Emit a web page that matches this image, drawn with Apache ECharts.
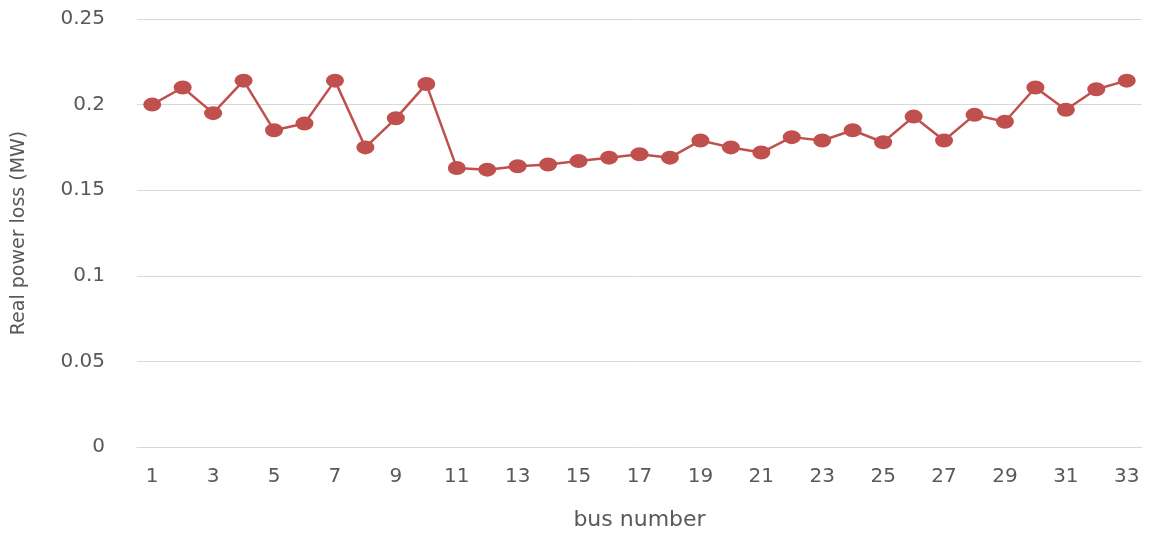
<!DOCTYPE html>
<html>
<head>
<meta charset="utf-8">
<title>Real power loss by bus</title>
<script src="https://cdn.jsdelivr.net/npm/echarts@6/dist/echarts.min.js"></script>
<style>
  html, body { margin: 0; padding: 0; background: #fff; }
  #main { width: 1162px; height: 536px; }
</style>
</head>
<body>
<div id="main"></div>
<script>
// bus numbers 1..33
var busNumbers = ['1','2','3','4','5','6','7','8','9','10','11','12','13','14','15','16','17',
  '18','19','20','21','22','23','24','25','26','27','28','29','30','31','32','33'];
// real power loss (MW)
var powerLoss = [0.200, 0.210, 0.195, 0.214, 0.185, 0.189, 0.214, 0.175, 0.192, 0.212,
  0.163, 0.162, 0.164, 0.165, 0.167, 0.169, 0.171, 0.169, 0.179, 0.175, 0.172,
  0.181, 0.179, 0.185, 0.178, 0.193, 0.179, 0.194, 0.190, 0.210, 0.197, 0.209, 0.214];

var txt = '#595959';
var font = '"DejaVu Sans", sans-serif';

var myChart = echarts.init(document.getElementById('main'));
var option = {
  animation: false,
  grid: { left: 137, right: 20, top: 19, bottom: 89, containLabel: false },
  xAxis: {
    type: 'category',
    data: busNumbers,
    boundaryGap: true,
    name: 'bus number',
    nameLocation: 'middle',
    nameGap: 62,
    nameTextStyle: { color: txt, fontSize: 22, fontFamily: font },
    axisLine: { lineStyle: { color: '#d9d9d9', width: 1 } },
    axisTick: { show: false },
    axisLabel: { interval: 1, color: txt, fontSize: 20, fontFamily: font, margin: 20 }
  },
  yAxis: {
    type: 'value',
    min: 0,
    max: 0.25,
    interval: 0.05,
    name: 'Real power loss (MW)',
    nameLocation: 'middle',
    nameGap: 108,
    nameTextStyle: { color: txt, fontSize: 19, fontFamily: font },
    axisLine: { show: false },
    axisTick: { show: false },
    splitLine: { lineStyle: { color: '#d9d9d9', width: 1 } },
    axisLabel: { color: txt, fontSize: 20, fontFamily: font, margin: 32 }
  },
  series: [{
    type: 'line',
    data: powerLoss,
    symbol: 'circle',
    symbolSize: [18, 14],
    lineStyle: { color: '#C0504D', width: 2.5 },
    itemStyle: { color: '#C0504D' }
  }]
};
myChart.setOption(option);
</script>
</body>
</html>
